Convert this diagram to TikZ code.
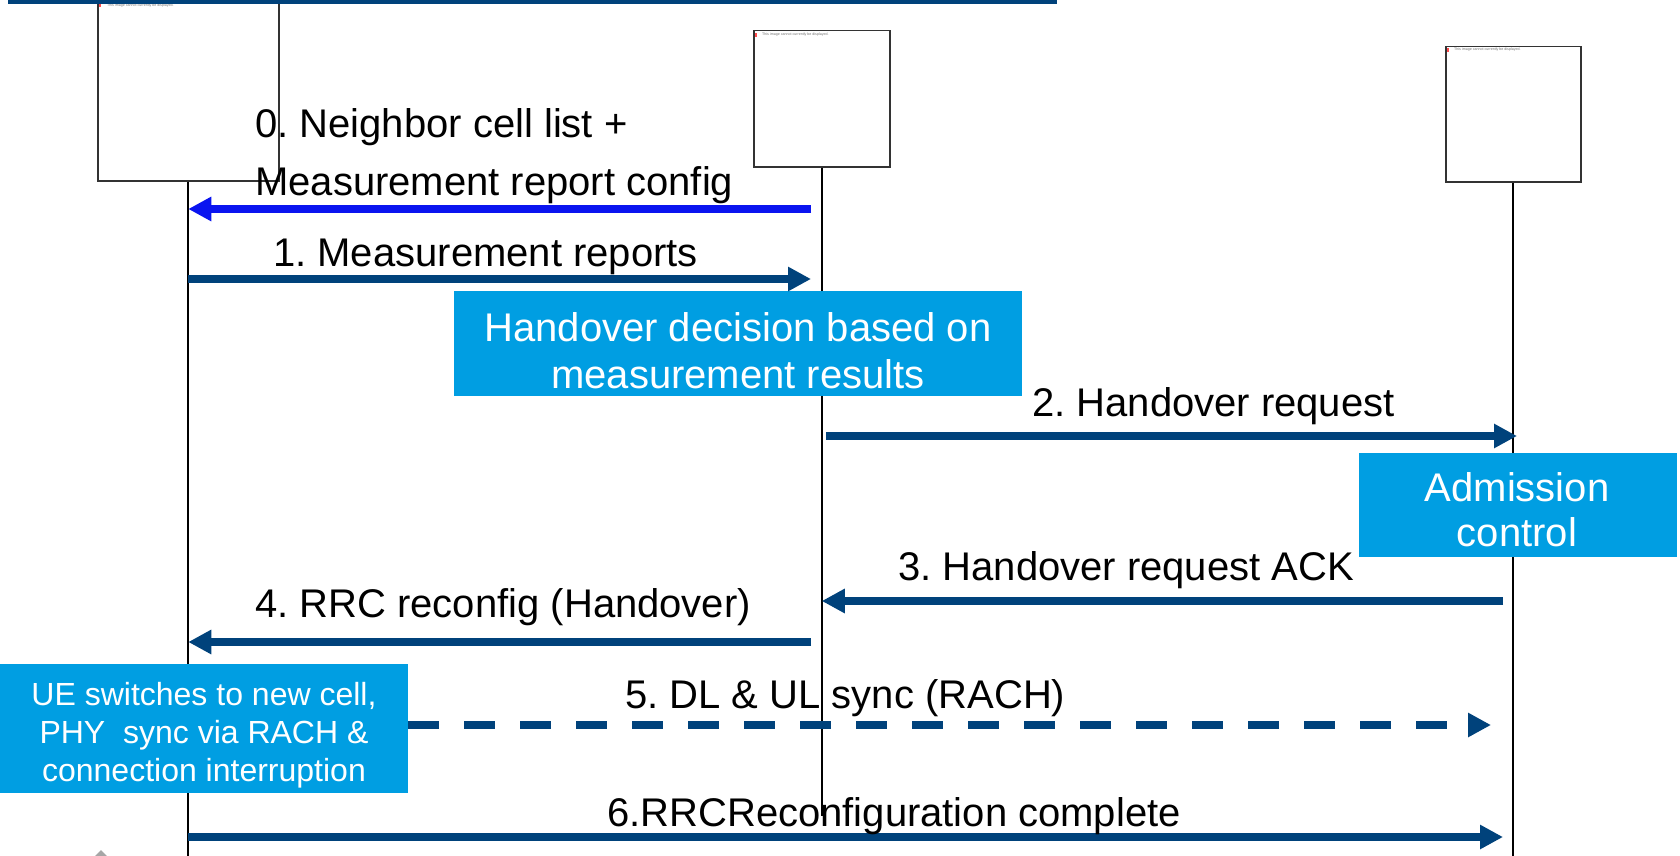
\documentclass[tikz,border=0pt]{standalone}
\usepackage{fontspec}
\setmainfont{Liberation Sans}
\usetikzlibrary{arrows.meta}
\definecolor{dkblue}{HTML}{00427B}
\definecolor{brblue}{HTML}{0A14F0}
\definecolor{boxblue}{HTML}{009EE2}
\frenchspacing
\begin{document}
\frenchspacing
\begin{tikzpicture}[x=1pt,y=-1pt,
  lbl/.style={anchor=base west,inner sep=0pt,font=\fontsize{40}{48}\selectfont},
  wlbl/.style={anchor=base,inner sep=0pt,text=white,font=\fontsize{40}{48}\selectfont},
  swlbl/.style={anchor=base,inner sep=0pt,text=white,font=\fontsize{32}{38}\selectfont},
  msg/.style={draw=dkblue,line width=8pt,-{Triangle[length=23pt,width=23pt]}},
  imgbox/.style={draw=black!80,line width=1.5pt,fill=white,inner sep=0pt,anchor=north west},
  bbox/.style={fill=boxblue,inner sep=0pt,anchor=north west},
  life/.style={draw=black,line width=2pt},
  tinytxt/.style={anchor=west,inner sep=0pt,text=black!55,font=\fontsize{3.6}{4}\selectfont}]
\useasboundingbox (0,0) rectangle (1680,856);
\fill[white] (0,0) rectangle (1680,856);
% entity placeholder boxes
\node[imgbox,minimum width=181,minimum height=180] (ue) at (97,0) {};
\node[imgbox,minimum width=136,minimum height=136] (src) at (753,30) {};
\node[imgbox,minimum width=135,minimum height=135] (tgt) at (1445,46) {};
% placeholder captions
\fill[red!70] (99,4) rectangle (101,7);
\node[tinytxt] (c1) at (107,6) {This image cannot currently be displayed.};
\fill[red!70] (755,33) rectangle (757,37);
\node[tinytxt] (c2) at (762,35) {This image cannot currently be displayed.};
\fill[red!70] (1447,48) rectangle (1449,52);
\node[tinytxt] (c3) at (1454,50) {This image cannot currently be displayed.};
% top bar
\fill[dkblue] (8,0) rectangle (1057,4);
% lifelines
\coordinate (ueend) at (ue.south |- 0,856);
\coordinate (srcend) at (src.south |- 0,816);
\coordinate (tgtend) at (tgt.south |- 0,856);
\draw[life] (ue.south) -- (ueend);
\draw[life] (src.south) -- (srcend);
\draw[life] (tgt.south) -- (tgtend);
% boxes
\node[bbox,minimum width=568,minimum height=105] (hd) at (454,291) {};
\node[wlbl] (hd1) at (738,341) {Handover decision based on};
\node[wlbl] (hd2) at (738,388) {measurement results};
\node[bbox,minimum width=318,minimum height=104] (ac) at (1359,453) {};
\node[wlbl] (ac1) at (1517,501) {Admission};
\node[wlbl] (ac2) at (1517,546) {control};
\node[bbox,minimum width=408,minimum height=129] (sw) at (0,664) {};
\node[swlbl] (sw1) at (204,705) {UE switches to new cell,};
\node[swlbl] (sw2) at (204,743) {PHY\ \ sync via RACH \&};
\node[swlbl] (sw3) at (204,781) {connection interruption};
% message end points
\coordinate (a0s) at (811,209);  \coordinate (a0e) at (ue.south |- a0s);
\coordinate (a1s) at (ue.south |- 0,279); \coordinate (a1e) at (811,279);
\coordinate (a2s) at (826,436);  \coordinate (a2e) at (1517,436);
\coordinate (a3s) at (1503,601); \coordinate (a3e) at (src.south |- a3s);
\coordinate (a4s) at (811,642);  \coordinate (a4e) at (ue.south |- a4s);
\coordinate (a5s) at (sw.east |- 0,725); \coordinate (a5e) at (1491,725);
\coordinate (a6s) at (ue.south |- 0,837); \coordinate (a6e) at (1503,837);
% messages
\draw[msg,draw=brblue,-{Triangle[length=23pt,width=23pt,fill=brblue]},brblue] (a0s) -- (a0e);
\draw[msg,dkblue] (a1s) -- (a1e);
\draw[msg,dkblue] (a2s) -- (a2e);
\draw[msg,dkblue] (a3s) -- (a3e);
\draw[msg,dkblue] (a4s) -- (a4e);
\draw[msg,dkblue,dash pattern=on 31pt off 25pt] (a5s) -- (a5e);
\draw[msg,dkblue] (a6s) -- (a6e);
% labels
\node[lbl] (l0a) at (255,138) {0. Neighbor cell list +};
\node[lbl] (l0b) at (255,195.5) {Measurement report config};
\node[lbl] (l1) at (273,266) {1. Measurement reports};
\node[lbl] (l2) at (1032,416) {2. Handover request};
\node[lbl] (l3) at (898,580) {3. Handover request ACK};
\node[lbl] (l4) at (255,617) {4. RRC reconfig (Handover)};
\node[lbl] (l5) at (625,708) {5. DL \& UL sync (RACH)};
\node[lbl] (l6) at (607,826) {6.RRCReconfiguration complete};
% small grey mark bottom left
\fill[black!35] (101,850) -- (107,856) -- (95,856) -- cycle;
\end{tikzpicture}
\end{document}
